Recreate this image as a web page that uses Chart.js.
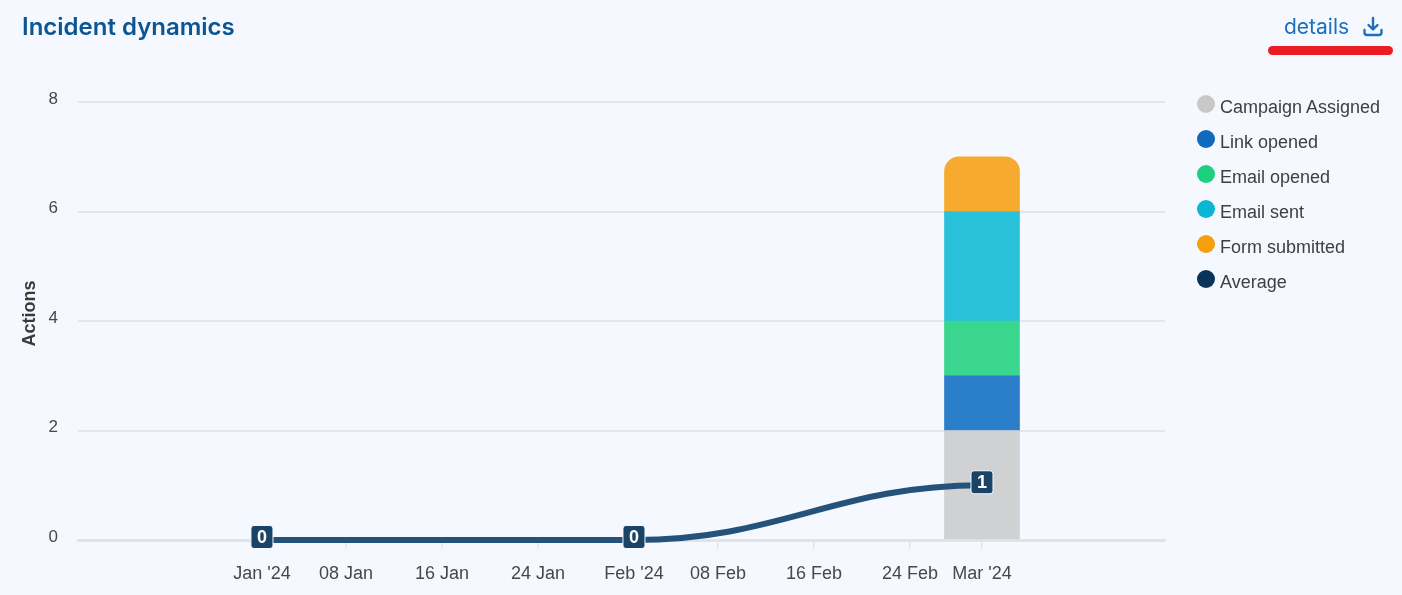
<!DOCTYPE html>
<html>
<head>
<meta charset="utf-8">
<title>Incident dynamics</title>
<script src="https://cdn.jsdelivr.net/npm/chart.js@4"></script>
<style>
  html, body { margin: 0; padding: 0; background: #f5f9ff; overflow: hidden; }
  #wrap { position: relative; width: 1402px; height: 595px; font-family: "Liberation Sans", sans-serif; }
  #chart { position: absolute; left: 0; top: 0; }
  #title { position: absolute; left: 22px; top: 12px; font-family: Inter, sans-serif; font-size: 24px; line-height: 30px; font-weight: 600; color: #0b5592; }
  #details { position: absolute; left: 1284px; top: 13px; font-family: Inter, sans-serif; font-size: 21px; line-height: 28px; color: #1b6fbd; }
  #dl { position: absolute; left: 1362px; top: 16px; }
  #mark { position: absolute; left: 1268px; top: 46px; width: 125px; height: 9px; border-radius: 5px; background: #ec1c24; }
  #legend { position: absolute; left: 1197px; top: 89px; }
  .row { position: relative; height: 35px; font-size: 18px; line-height: 37px; color: #3d4146; padding-left: 23px; white-space: nowrap; }
  .dot { position: absolute; left: 0; top: 6px; width: 18px; height: 18px; border-radius: 50%; }
</style>
</head>
<body>
<div id="wrap">
  <canvas id="chart" width="1402" height="595"></canvas>
  <div id="title">Incident dynamics</div>
  <div id="details">details</div>
  <svg id="dl" width="22" height="22" viewBox="0 0 22 22" fill="none" stroke="#1b6fbd" stroke-width="2.4" stroke-linecap="round" stroke-linejoin="round">
    <path d="M11 2v11M6.5 9l4.5 4.5L15.500 9M2.500 14v2.500a2.500 2.500 0 0 0 2.500 2.500h12a2.500 2.500 0 0 0 2.500-2.500V14"/>
  </svg>
  <div id="mark"></div>
  <div id="legend"></div>
</div>
<script>
// days counted from 1 Jan 2024
const pointDays = [0, 31, 60];
const tickDays = [0, 7, 15, 23, 31, 38, 46, 54, 60];
const tickLabels = ["Jan '24", '08 Jan', '16 Jan', '24 Jan', "Feb '24", '08 Feb', '16 Feb', '24 Feb', "Mar '24"];

const campaignAssigned = [0, 0, 2];
const linkOpened = [0, 0, 1];
const emailOpened = [0, 0, 1];
const emailSent = [0, 0, 2];
const formSubmitted = [0, 0, 1];
const average = [0, 0, 1];

const barSeries = [
  { label: 'Campaign Assigned', values: campaignAssigned, color: '#d0d1d3', dot: '#c8c8c8' },
  { label: 'Link opened', values: linkOpened, color: '#2b7ec9', dot: '#0f69bd' },
  { label: 'Email opened', values: emailOpened, color: '#3ad690', dot: '#1bd07f' },
  { label: 'Email sent', values: emailSent, color: '#29c0da', dot: '#0bb6d5' },
  { label: 'Form submitted', values: formSubmitted, color: '#f6aa2f', dot: '#f69f0d' }
];
const lineColor = '#25527a';
const lineDot = '#0a3359';

const toPoints = (vals) => vals.map((v, i) => ({ x: pointDays[i], y: v }));

const datasets = barSeries.map((s, i) => ({
  type: 'bar',
  label: s.label,
  // empty months draw no bar at all
  data: toPoints(s.values).filter(p => p.y > 0),
  backgroundColor: s.color,
  stack: 'actions',
  order: 2,
  barThickness: 75,
  borderWidth: 0,
  borderSkipped: false,
  borderRadius: i === barSeries.length - 1 ? { topLeft: 15, topRight: 15, bottomLeft: 0, bottomRight: 0 } : 0
}));
datasets.push({
  type: 'line',
  label: 'Average',
  data: toPoints(average),
  borderColor: lineColor,
  borderWidth: 6,
  tension: 0.4,
  pointRadius: 0,
  fill: false,
  clip: false,
  stack: 'avg',
  order: 1
});

// flat handles on the average curve, and the small value boxes
const avgLine = {
  id: 'avgLine',
  beforeDatasetDraw(chart, args) {
    if (args.meta.type !== 'line') return;
    const pts = args.meta.data;
    pts.forEach((p, i) => {
      const prev = pts[i - 1], next = pts[i + 1];
      p.cp1x = prev ? p.x - (p.x - prev.x) * 0.42 : p.x;
      p.cp1y = p.y;
      p.cp2x = next ? p.x + (next.x - p.x) * 0.42 : p.x;
      p.cp2y = p.y;
    });
    args.meta.dataset._pointsUpdated = true;
  },
  afterDatasetsDraw(chart) {
    const idx = chart.data.datasets.findIndex(d => d.type === 'line');
    const ctx = chart.ctx;
    chart.getDatasetMeta(idx).data.forEach((p, i) => {
      const y = p.y - 3;
      ctx.save();
      ctx.beginPath();
      ctx.roundRect(p.x - 11, y - 11.500, 22, 23, 3);
      ctx.fillStyle = '#1a4368';
      ctx.fill();
      ctx.lineWidth = 1;
      ctx.strokeStyle = '#f5f9ff';
      ctx.stroke();
      ctx.fillStyle = '#ffffff';
      ctx.font = '700 18px "Liberation Sans", sans-serif';
      ctx.textAlign = 'center';
      ctx.textBaseline = 'middle';
      ctx.fillText(String(average[i]), p.x, y + 1);
      ctx.restore();
    });
  }
};

new Chart(document.getElementById('chart'), {
  data: { datasets },
  plugins: [avgLine],
  options: {
    responsive: false,
    animation: false,
    events: [],
    layout: { padding: { top: 102, right: 237, bottom: 0, left: 0 } },
    plugins: { legend: { display: false }, tooltip: { enabled: false } },
    scales: {
      x: {
        type: 'linear',
        stacked: true,
        offset: false,
        min: -15.33,
        max: 75.25,
        afterBuildTicks(scale) { scale.ticks = tickDays.map(v => ({ value: v })); },
        afterFit(scale) { scale.height = 55; },
        ticks: {
          autoSkip: false,
          maxRotation: 0,
          padding: 14,
          color: '#45494e',
          font: { family: '"Liberation Sans", sans-serif', size: 18 },
          callback: (v) => tickLabels[tickDays.indexOf(v)]
        },
        border: { display: true, color: '#e3e2e4', width: 3 },
        grid: { offset: false, drawOnChartArea: false, drawTicks: true, tickLength: 9, color: '#e3e5e8', lineWidth: 1.500 }
      },
      y: {
        min: 0,
        max: 8,
        afterBuildTicks(scale) { scale.ticks = [0, 2, 4, 6, 8].map(v => ({ value: v })); },
        afterFit(scale) { scale.width = 78; },
        title: {
          display: true,
          // leading spaces lift the title a little above the axis centre
          text: '\u00a0\u00a0\u00a0Actions',
          color: '#3a3a3a',
          padding: { top: 19, bottom: 0 },
          font: { family: '"Liberation Sans", sans-serif', size: 18, weight: '700' }
        },
        ticks: {
          padding: 20,
          labelOffset: -3,
          color: '#45494e',
          font: { family: '"Liberation Sans", sans-serif', size: 17 }
        },
        border: { display: false },
        grid: { drawTicks: false, color: '#e4e6e9', lineWidth: 2 }
      }
    }
  }
});

// legend beside the chart
const legendEl = document.getElementById('legend');
barSeries.map(s => [s.label, s.dot]).concat([['Average', lineDot]]).forEach(([label, dot]) => {
  const row = document.createElement('div');
  row.className = 'row';
  row.innerHTML = `<span class="dot" style="background:${dot}"></span>${label}`;
  legendEl.appendChild(row);
});
</script>
</body>
</html>
